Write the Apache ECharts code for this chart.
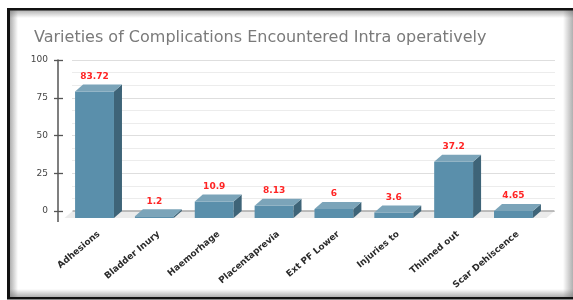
<!DOCTYPE html>
<html><head><meta charset="utf-8">
<script src="https://cdn.jsdelivr.net/npm/echarts@6/dist/echarts.min.js"></script>
<style>html,body{margin:0;padding:0;background:#fff}#c{width:573px;height:300px}</style>
</head><body><div id="c"></div>
<script>
const categories = ['Adhesions','Bladder Inury','Haemorhage','Placentaprevia','Ext PF Lower','Injuries to','Thinned out','Scar Dehiscence'];
const values = [83.72, 1.2, 10.9, 8.13, 6, 3.6, 37.2, 4.65];
const valueLabels = ['83.72','1.2','10.9','8.13','6','3.6','37.2','4.65'];
const yMin = 0, yMax = 100, yInterval = 25;

const DX = 8, DY = 7;
const FONT = '"DejaVu Sans", Arial, sans-serif';
const chart = echarts.init(document.getElementById('c'), null, {renderer: 'canvas'});

function renderBar(params, api) {
  const i = api.value(0), v = api.value(1);
  const top = api.coord([i, v]);
  const base = api.coord([i, 0]);
  const w = api.size([1, 0])[0] * 0.65;
  const x0 = top[0] - w / 2, x1 = top[0] + w / 2;
  const yt = top[1], yb = base[1];
  return {type: 'group', children: [
    {type: 'rect', shape: {x: x0, y: yt, width: w, height: yb - yt}, style: {fill: '#5a8fab'}},
    {type: 'polygon', shape: {points: [[x1, yt], [x1 + DX, yt - DY], [x1 + DX, yb - DY], [x1, yb]]}, style: {fill: '#3e6478'}},
    {type: 'polygon', shape: {points: [[x0, yt], [x0 + DX, yt - DY], [x1 + DX, yt - DY], [x1, yt]]}, style: {fill: '#7ba4b9'}},
    {type: 'text', style: {text: valueLabels[params.dataIndex], x: top[0], y: yt - DY - 8, align: 'center', verticalAlign: 'middle', fill: '#ff2424', font: 'bold 9px ' + FONT}}
  ]};
}

function renderFloor(params, api) {
  const cs = params.coordSys;
  const yb = cs.y + cs.height, yk = yb - DY;
  const xl = cs.x, xr = cs.x + cs.width + 3;
  return {type: 'group', children: [
    {type: 'polygon', shape: {points: [[xl, yb], [xl + DX, yk], [xr + DX, yk], [xr, yb]]}, style: {fill: '#ebebeb'}},
    {type: 'line', shape: {x1: xl + DX, y1: yk, x2: xr + DX, y2: yk}, style: {stroke: '#a8a8a8', lineWidth: 1.5}}
  ]};
}

const barData = values.map((v, i) => [i, v]);

const option = {
  animation: false,
  backgroundColor: '#fff',
  title: {text: 'Varieties of Complications Encountered Intra operatively', left: 29, top: 25,
    textStyle: {color: '#7a7a7a', fontSize: 16, fontWeight: 'normal', fontFamily: FONT}},
  grid: [
    {left: 72, right: 18, top: 60, bottom: 89},
    {left: 64.6, right: 29.6, top: 67, bottom: 82},
    {left: 69, right: 25.2, top: 67, bottom: 82}
  ],
  xAxis: [
    {gridIndex: 0, type: 'category', data: categories, show: false},
    {gridIndex: 1, type: 'category', data: categories, show: false},
    {gridIndex: 2, type: 'category', data: categories, axisLine: {show: false}, axisTick: {show: false},
      axisLabel: {interval: 0, rotate: 40, margin: 15, color: '#2a2a2a', fontSize: 9, fontWeight: 'bold', fontFamily: FONT}}
  ],
  yAxis: [
    {gridIndex: 0, type: 'value', position: 'left', min: yMin, max: yMax, interval: yInterval, offset: 14,
      axisLine: {show: true, lineStyle: {color: '#555', width: 1.5}},
      axisTick: {show: true, length: 4, lineStyle: {color: '#555', width: 1.3}},
      axisLabel: {margin: 10, color: '#444', fontSize: 9, fontFamily: FONT},
      splitLine: {show: true, lineStyle: {color: '#dedede'}},
      minorTick: {show: false, splitNumber: 3},
      minorSplitLine: {show: true, lineStyle: {color: '#ececec'}}},
    {gridIndex: 0, type: 'value', position: 'left', min: yMin, max: yMax, interval: yInterval, offset: 14,
      axisLine: {show: false}, axisTick: {show: true, inside: true, length: 5, lineStyle: {color: '#555', width: 1.3}},
      axisLabel: {show: false}, splitLine: {show: false}},
    {gridIndex: 1, type: 'value', min: yMin, max: yMax, show: false, splitLine: {show: false}},
    {gridIndex: 2, type: 'value', min: yMin, max: yMax, show: false, splitLine: {show: false}}
  ],
  series: [
    {type: 'custom', xAxisIndex: 1, yAxisIndex: 2, data: [[0]], renderItem: renderFloor, silent: true, z: 1},
    {type: 'custom', xAxisIndex: 1, yAxisIndex: 2, data: barData, renderItem: renderBar, z: 3, encode: {x: 0, y: 1}}
  ]
};
chart.setOption(option);

// y axis line extension below zero, and frame
const yZero = chart.convertToPixel({yAxisIndex: 0}, yMin);
const axisX = 72 - 14;
const sh = 'rgba(110,110,110,0.55)', tr = 'rgba(110,110,110,0)';
chart.setOption({graphic: [
  {type: 'line', shape: {x1: axisX, y1: yZero, x2: axisX, y2: yZero + 11}, style: {stroke: '#555', lineWidth: 1.5}, z: 50},
  {type: 'rect', shape: {x: 10, y: 10, width: 563, height: 8}, style: {fill: new echarts.graphic.LinearGradient(0, 0, 0, 1, [{offset: 0, color: sh}, {offset: 1, color: tr}])}, z: 90},
  {type: 'rect', shape: {x: 10, y: 10, width: 8, height: 287}, style: {fill: new echarts.graphic.LinearGradient(0, 0, 1, 0, [{offset: 0, color: sh}, {offset: 1, color: tr}])}, z: 90},
  {type: 'rect', shape: {x: 563, y: 10, width: 10, height: 287}, style: {fill: new echarts.graphic.LinearGradient(0, 0, 1, 0, [{offset: 0, color: tr}, {offset: 1, color: sh}])}, z: 90},
  {type: 'rect', shape: {x: 10, y: 289, width: 563, height: 8}, style: {fill: new echarts.graphic.LinearGradient(0, 0, 0, 1, [{offset: 0, color: tr}, {offset: 1, color: sh}])}, z: 90},
  {type: 'rect', shape: {x: 7, y: 8, width: 566, height: 2.5}, style: {fill: '#111'}, z: 100},
  {type: 'rect', shape: {x: 7, y: 8, width: 3, height: 291}, style: {fill: '#111'}, z: 100},
  {type: 'rect', shape: {x: 7, y: 297, width: 566, height: 2.5}, style: {fill: '#111'}, z: 100}
]});
</script></body></html>
